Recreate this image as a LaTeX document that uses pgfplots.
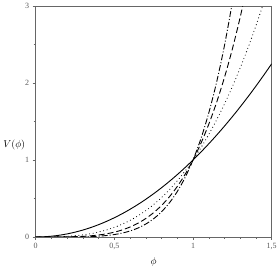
\documentclass[border=0pt]{standalone}
\usepackage{pgfplots}
\pgfplotsset{compat=1.18}
\usepackage{fontspec}
\setmainfont{Liberation Serif}
\begin{document}
\begin{tikzpicture}
\begin{axis}[
  scale only axis, width=236pt, height=231pt,
  xmin=0, xmax=1.5, ymin=0, ymax=3,
  xtick={0,0.5,1,1.5}, ytick={0,1,2,3},
  minor x tick num=4, minor y tick num=1,
  tick align=outside, tick pos=left,
  major tick length=3pt, minor tick length=2pt,
  axis line style={gray!80!black, line width=0.8pt},
  every tick/.style={gray!80!black, line width=0.5pt},
  /pgf/number format/use comma,
  /pgf/number format/assume math mode=true,
  tick label style={font=\fontsize{8}{9}\selectfont, text=gray!70!black},
  xlabel={$\phi$}, ylabel={$V(\phi)$},
  ylabel style={rotate=-90, at={(axis description cs:-0.03,0.4)}, anchor=east, font=\fontsize{10}{12}\selectfont},
  xlabel style={at={(axis description cs:0.5,-0.075)}, anchor=north, font=\fontsize{10}{12}\selectfont},
  clip=true,
]
\addplot[black, line width=0.9pt, smooth] coordinates {
(0,0)(0.05,0.0025)(0.1,0.01)(0.15,0.0225)(0.2,0.04)(0.25,0.0625)(0.3,0.09)(0.35,0.1225)(0.4,0.16)(0.45,0.2025)(0.5,0.25)(0.55,0.3025)(0.6,0.36)(0.65,0.4225)(0.7,0.49)(0.75,0.5625)(0.8,0.64)(0.85,0.7225)(0.9,0.81)(0.95,0.9025)(1,1)(1.05,1.1025)(1.1,1.21)(1.15,1.3225)(1.2,1.44)(1.25,1.5625)(1.3,1.69)(1.35,1.8225)(1.4,1.96)(1.45,2.1025)(1.5,2.25)};
\addplot[black, line width=1.1pt, smooth, dash pattern=on 0pt off 3.6pt, line cap=round] coordinates {
(0,0)(0.05,0.000125)(0.1,0.001)(0.15,0.003375)(0.2,0.008)(0.25,0.015625)(0.3,0.027)(0.35,0.042875)(0.4,0.064)(0.45,0.091125)(0.5,0.125)(0.55,0.166375)(0.6,0.216)(0.65,0.274625)(0.7,0.343)(0.75,0.421875)(0.8,0.512)(0.85,0.614125)(0.9,0.729)(0.95,0.857375)(1,1)(1.05,1.157625)(1.1,1.331)(1.15,1.520875)(1.2,1.728)(1.25,1.953125)(1.3,2.197)(1.35,2.460375)(1.4,2.744)(1.45,3.048625)(1.5,3.375)};
\addplot[black, line width=0.9pt, smooth, dash pattern=on 6pt off 3pt] coordinates {
(0,0)(0.05,0.00000625)(0.1,0.0001)(0.15,0.000506)(0.2,0.0016)(0.25,0.003906)(0.3,0.0081)(0.35,0.015006)(0.4,0.0256)(0.45,0.041006)(0.5,0.0625)(0.55,0.091506)(0.6,0.1296)(0.65,0.178506)(0.7,0.2401)(0.75,0.316406)(0.8,0.4096)(0.85,0.522006)(0.9,0.6561)(0.95,0.814506)(1,1)(1.05,1.215506)(1.1,1.4641)(1.15,1.749006)(1.2,2.0736)(1.25,2.441406)(1.3,2.8561)(1.35,3.321506)};
\addplot[black, line width=0.9pt, smooth, dash pattern=on 6pt off 2pt on 1pt off 2pt] coordinates {
(0,0)(0.05,0.0000003)(0.1,0.00001)(0.15,0.0000759)(0.2,0.00032)(0.25,0.000977)(0.3,0.00243)(0.35,0.00525)(0.4,0.01024)(0.45,0.01845)(0.5,0.03125)(0.55,0.05033)(0.6,0.07776)(0.65,0.11603)(0.7,0.16807)(0.75,0.2373)(0.8,0.32768)(0.85,0.44371)(0.9,0.59049)(0.95,0.77378)(1,1)(1.05,1.27628)(1.1,1.61051)(1.15,2.01136)(1.2,2.48832)(1.25,3.05176)(1.3,3.71293)};
\end{axis}
\end{tikzpicture}
\end{document}
